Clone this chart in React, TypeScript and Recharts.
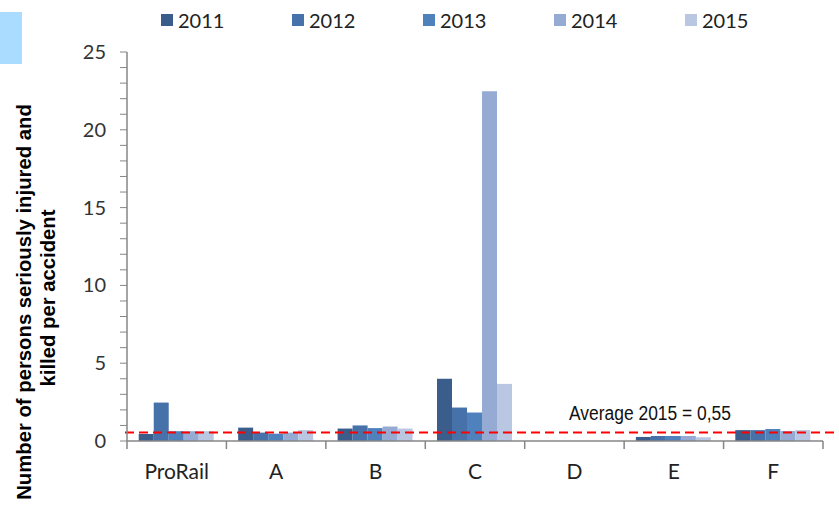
import { BarChart, Bar, XAxis, YAxis, ReferenceLine, Label } from "recharts";

const categories = ["ProRail", "A", "B", "C", "D", "E", "F"];
const years = ["2011", "2012", "2013", "2014", "2015"];
const v2011 = [0.45, 0.86, 0.8, 4.0, 0, 0.26, 0.7];
const v2012 = [2.47, 0.54, 1.0, 2.15, 0, 0.32, 0.7];
const v2013 = [0.63, 0.47, 0.83, 1.83, 0, 0.32, 0.77];
const v2014 = [0.63, 0.54, 0.93, 22.47, 0, 0.32, 0.64];
const v2015 = [0.63, 0.7, 0.8, 3.67, 0, 0.24, 0.7];
const yTicks = [0, 1, 2, 3, 4, 5, 6, 7, 8, 9, 10, 11, 12, 13, 14, 15, 16, 17, 18, 19, 20, 21, 22, 23, 24, 25];
const average2015 = 0.55;
const averageLabel = "Average 2015 = 0,55";

const COLORS = ["#3b5d8c", "#4672a9", "#4f81bd", "#95abd3", "#bac7e2"];
const AXIS = "#868686";

const series = [v2011, v2012, v2013, v2014, v2015];
const data = categories.map((c, i) => {
  const row: Record<string, string | number> = { name: c };
  years.forEach((y, k) => (row[y] = series[k][i]));
  return row;
});

const W = 839;
const H = 505;
const LEFT = 127;
const RIGHT = 16;
const BAND = (W - LEFT - RIGHT) / categories.length;

function XTick(props: any) {
  const { x, y, payload } = props;
  const last = payload.index === categories.length - 1;
  return (
    <g>
      <line x1={x - BAND / 2} x2={x - BAND / 2} y1={y} y2={y + 8} stroke={AXIS} strokeWidth={1.5} />
      {last && <line x1={x + BAND / 2} x2={x + BAND / 2} y1={y} y2={y + 8} stroke={AXIS} strokeWidth={1.5} />}
      <text x={x} y={y + 38} textAnchor="middle" fontFamily="Lato, sans-serif" fontSize={21} fill="#222">
        {payload.value}
      </text>
    </g>
  );
}

function YTick(props: any) {
  const { x, y, payload } = props;
  if (payload.value % 5 !== 0) return null;
  return (
    <text x={x} y={y} dy={7} textAnchor="end" fontFamily="Lato, sans-serif" fontSize={20} fill="#333">
      {payload.value}
    </text>
  );
}

export default function App() {
  return (
    <div style={{ position: "absolute", left: 0, top: 0, width: W, height: H, background: "#fff" }}>
      <div style={{ position: "absolute", left: 0, top: 12, width: 22, height: 52, background: "#a9dcff" }} />
      {/* legend */}
      {years.map((y, i) => (
        <div
          key={y}
          style={{
            position: "absolute",
            left: 161 + i * 131,
            top: 8,
            display: "flex",
            alignItems: "center",
            fontFamily: "Lato, sans-serif",
            fontSize: 20,
            color: "#222",
          }}
        >
          <span style={{ width: 12, height: 12, background: COLORS[i], marginRight: 5, display: "inline-block" }} />
          {y}
        </div>
      ))}
      <BarChart
        width={W}
        height={H}
        data={data}
        margin={{ top: 52, right: RIGHT, bottom: 0, left: 0 }}
        barCategoryGap="11.8%"
        barGap={0}
      >
        <XAxis
          dataKey="name"
          height={64}
          axisLine={{ stroke: AXIS, strokeWidth: 1.5 }}
          tickLine={false}
          tickSize={0}
          tickMargin={0}
          tick={<XTick />}
          interval={0}
        />
        <YAxis
          width={LEFT}
          domain={[0, 25]}
          ticks={yTicks}
          interval={0}
          axisLine={{ stroke: AXIS, strokeWidth: 1.5 }}
          tickLine={{ stroke: AXIS }}
          tickSize={7}
          tickMargin={14}
          tick={<YTick />}
        >
          <Label
            content={() => (
              <g fontFamily="'Liberation Sans', Arial, sans-serif" fontWeight="bold" fontSize={20.3} fill="#000">
                <text x={31} y={302} transform="rotate(-90 31 302)" textAnchor="middle">
                  Number of persons seriously injured and
                </text>
                <text x={55} y={298} transform="rotate(-90 55 298)" textAnchor="middle">
                  killed per accident
                </text>
              </g>
            )}
          />
        </YAxis>
        {years.map((y, i) => (
          <Bar key={y} dataKey={y} fill={COLORS[i]} isAnimationActive={false} />
        ))}
        <ReferenceLine
          y={average2015}
          stroke="#ff0000"
          strokeWidth={2}
          strokeDasharray="9 5"
          shape={(p: any) => (
            <line x1={p.x1 - 2} x2={p.x2 + RIGHT} y1={p.y1} y2={p.y2} stroke="#ff0000" strokeWidth={2} strokeDasharray="9 5" />
          )}
        >
          <Label
            content={(p: any) => (
              <text
                x={p.viewBox.x + 442}
                y={p.viewBox.y - 12}
                fontFamily="'Liberation Sans', Arial, sans-serif"
                fontSize={20}
                textLength={162}
                lengthAdjust="spacingAndGlyphs"
                fill="#111"
              >
                {averageLabel}
              </text>
            )}
          />
        </ReferenceLine>
      </BarChart>
    </div>
  );
}
